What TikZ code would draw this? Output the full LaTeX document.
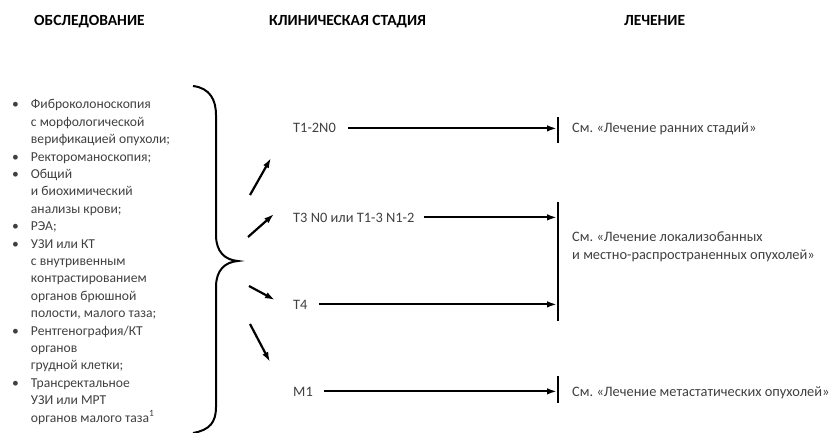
\documentclass[tikz,border=0pt]{standalone}
\usepackage{fontspec}
\setmainfont{Carlito}
\usetikzlibrary{arrows.meta}
\definecolor{txtgray}{HTML}{404040}
\frenchspacing

\begin{document}
\begin{tikzpicture}[x=1pt, y=-1pt,
  head/.style={font=\fontsize{15.5}{17}\selectfont\bfseries, anchor=base west, inner sep=0},
  txt/.style={font=\fontsize{13.6}{17.4}\selectfont, text=txtgray, anchor=base west, inner sep=0},
  big/.style={txt, font=\fontsize{14.4}{17.5}\selectfont},
  arr/.style={line width=2.2pt, arrows={-{Latex[length=10pt,width=6.5pt]}}},
  bar/.style={line width=2.8pt}]
\useasboundingbox (0,0) rectangle (835,433);
\def\bx{558}

% column heads
\node[head] (h1) at (34,26) {ОБСЛЕДОВАНИЕ};
\node[head] (h2) at (269,26) {КЛИНИЧЕСКАЯ СТАДИЯ};
\node[head] (h3) at (624,26) {ЛЕЧЕНИЕ};

% list of examinations
\node[txt] (exam) at (12,109) {\begin{tabular}[t]{@{}l@{\hspace{12pt}}l@{}}
\textbullet & Фиброколоноскопия\\
 & с морфологической\\
 & верификацией опухоли;\\
\textbullet & Ректороманоскопия;\\
\textbullet & Общий\\
 & и биохимический\\
 & анализы крови;\\
\textbullet & РЭА;\\
\textbullet & УЗИ или КТ\\
 & с внутривенным\\
 & контрастированием\\
 & органов брюшной\\
 & полости, малого таза;\\
\textbullet & Рентгенография/КТ\\
 & органов\\
 & грудной клетки;\\
\textbullet & Трансректальное\\
 & УЗИ или МРТ\\
 & органов малого таза\textsuperscript{1}
\end{tabular}};

% brace
\draw[line width=2pt] (193,86) .. controls (210,88) and (216,100) .. (216,115) -- (216,235)
  .. controls (216,252) and (225,260) .. (238,261)
  .. controls (225,262) and (216,270) .. (216,287) -- (216,407)
  .. controls (216,422) and (210,430) .. (193,433);

\coordinate (d1a) at (250,195); \coordinate (d1b) at (271,158);
\coordinate (d2a) at (248,237); \coordinate (d2b) at (274,214);
\coordinate (d3a) at (249,286); \coordinate (d3b) at (275,300);
\coordinate (d4a) at (250,324); \coordinate (d4b) at (270,362);
\draw[arr] (d1a) -- (d1b);
\draw[arr] (d2a) -- (d2b);
\draw[arr] (d3a) -- (d3b);
\draw[arr] (d4a) -- (d4b);

% stages
\node[big] (s1) at (293,133) {T1-2N0};
\node[big] (s2) at (293,222) {T3 N0 или T1-3 N1-2};
\node[big] (s3) at (293,309) {T4};
\node[big] (s4) at (293,396) {M1};

% bars
\coordinate (b1a) at (\bx,117); \coordinate (b1b) at (\bx,143);
\coordinate (b2a) at (\bx,202); \coordinate (b2b) at (\bx,321);
\coordinate (b3a) at (\bx,376); \coordinate (b3b) at (\bx,403);
\draw[bar] (b1a) -- (b1b);
\draw[bar] (b2a) -- (b2b);
\draw[bar] (b3a) -- (b3b);

\draw[arr, shorten <=12pt, shorten >=1pt] (s1.east) -- (s1.east -| b1a);
\draw[arr, shorten <=9pt, shorten >=1pt] (s2.east) -- (s2.east -| b2a);
\draw[arr, shorten <=11pt, shorten >=1pt] (s3.east) -- (s3.east -| b2a);
\draw[arr, shorten <=11pt, shorten >=1pt] (s4.east) -- (s4.east -| b3a);

% treatment
\node[big] (t1) at (572,133) {См. «Лечение ранних стадий»};
\node[big, align=left] (t2) at (572,259) {См. «Лечение локализобанных\\и местно-распространенных опухолей»};
\node[big] (t3) at (572,396) {См. «Лечение метастатических опухолей»};
\end{tikzpicture}
\end{document}
